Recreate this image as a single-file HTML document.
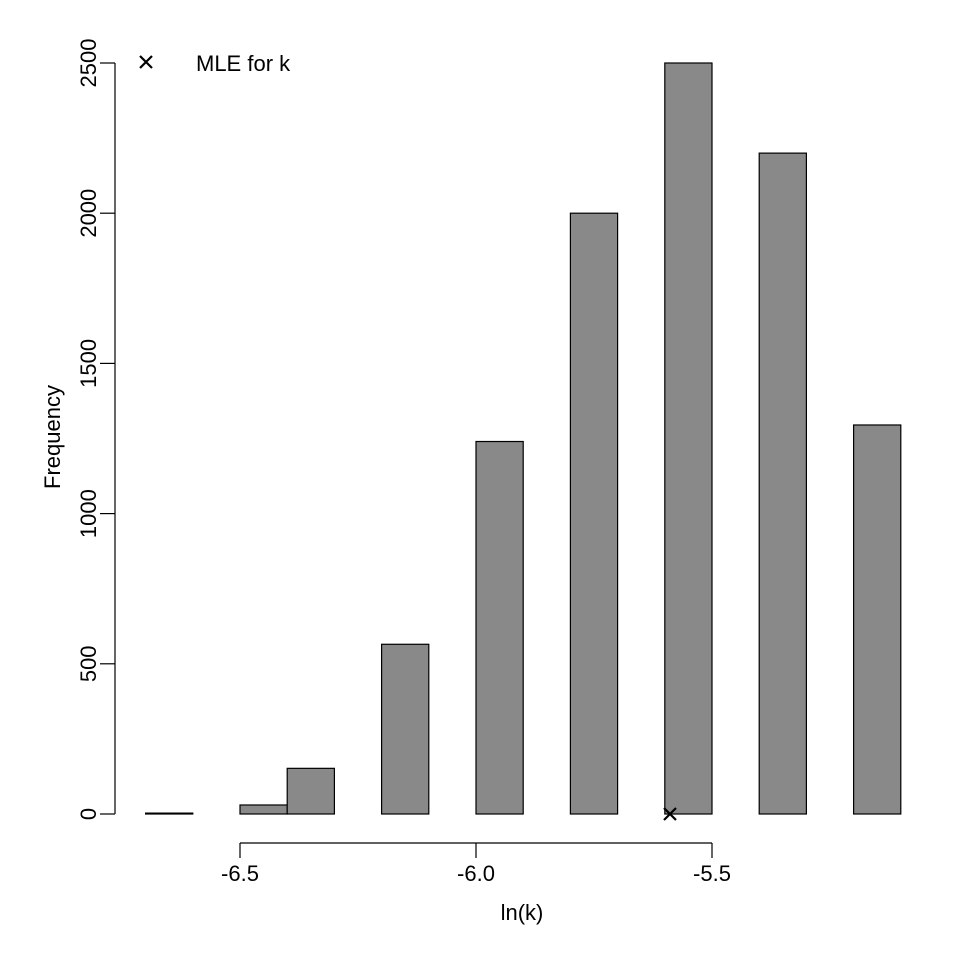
<!DOCTYPE html>
<html><head><meta charset="utf-8"><style>
body{margin:0;background:#fff}
svg{display:block;font-family:"Liberation Sans",Arial,sans-serif}
</style></head><body>
<svg id="chart" width="960" height="960">
<rect width="960" height="960" fill="#fff"/>
<g id="bars"></g>
<g id="axes"></g>
<text x="522" y="920" font-size="22" text-anchor="middle">ln(k)</text>
<text transform="translate(60,437) rotate(-90)" font-size="22" text-anchor="middle">Frequency</text>
<g>
<path d="M140,56 L152,68 M152,56 L140,68" stroke="#000" stroke-width="2.2"/>
<text x="196" y="71" font-size="22">MLE for k</text>
</g>
</svg>
<script>
const binStarts=[-6.7,-6.6,-6.5,-6.4,-6.3,-6.2,-6.1,-6.0,-5.9,-5.8,-5.7,-5.6,-5.5,-5.4,-5.3,-5.2];
const counts=[3,0,30,152,0,565,0,1240,0,2000,0,2500,0,2200,0,1295];
const binWidth=0.1;
const xTicks=[-6.5,-6.0,-5.5];
const xTickLabels=["-6.5","-6.0","-5.5"];
const yTicks=[0,500,1000,1500,2000,2500];
const mle=-5.589;
const NS="http://www.w3.org/2000/svg";
const X=v=>240+(v+6.5)*472;
const Y=v=>814-v*(751/2500);
const bars=document.getElementById('bars'),axes=document.getElementById('axes');
function mk(tag,attrs,parent){const e=document.createElementNS(NS,tag);for(const k in attrs)e.setAttribute(k,attrs[k]);parent.appendChild(e);return e;}
binStarts.forEach((b,i)=>{
 const x0=X(b),x1=X(b+binWidth),y=Y(counts[i]);
 const r=mk('rect',{x:x0,y:y,width:x1-x0,height:814-y,fill:'#898989',stroke:'#000','stroke-width':1.2},bars);
 
 
});
const yl=mk('line',{x1:115,x2:115,y1:Y(yTicks[yTicks.length-1]),y2:Y(0),stroke:'#000','stroke-width':1.2},axes);


yTicks.forEach(t=>{
 mk('line',{x1:100,x2:115,y1:Y(t),y2:Y(t),stroke:'#000','stroke-width':1.2},axes);
 const tx=mk('text',{transform:`translate(96,${Y(t)}) rotate(-90)`,'font-size':22,'text-anchor':'middle'},axes);
 tx.textContent=t;
 
 
});
const xl=mk('line',{x1:X(xTicks[0]),x2:X(xTicks[xTicks.length-1]),y1:843,y2:843,stroke:'#000','stroke-width':1.2},axes);


xTicks.forEach((t,i)=>{
 mk('line',{x1:X(t),x2:X(t),y1:843,y2:858,stroke:'#000','stroke-width':1.2},axes);
 const tx=mk('text',{x:X(t),y:881,'font-size':22,'text-anchor':'middle'},axes);
 tx.textContent=xTickLabels[i];
 
 
});
const mx=X(mle),my=Y(0);
const m=mk('path',{d:`M${mx-6},${my-6} L${mx+6},${my+6} M${mx+6},${my-6} L${mx-6},${my+6}`,stroke:'#000','stroke-width':2.2},axes);


</script>
</body></html>
